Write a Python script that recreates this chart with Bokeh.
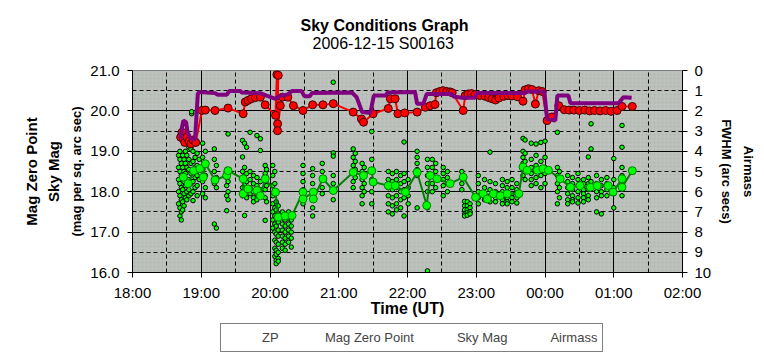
from bokeh.plotting import figure
from bokeh.layouts import column
from bokeh.models import (Range1d, LinearAxis, FixedTicker, Title, Legend, LegendItem,
                          BoxAnnotation)
from bokeh.embed import file_html
from bokeh.resources import INLINE

# ---------------- data (hours of UT, values after midnight > 24) ----------------
x_ticks = [18, 19, 20, 21, 22, 23, 24, 25, 26]
x_tick_labels = ["18:00", "19:00", "20:00", "21:00", "22:00", "23:00", "00:00", "01:00", "02:00"]
mag_ticks = [16, 17, 18, 19, 20, 21]
am_ticks = [0, 1, 2, 3, 4, 5, 6, 7, 8, 9, 10]

# ZP individual measurements, grouped by exposure sequence (time, list of mags)
zp_col_hour = [18.67, 18.69, 18.71, 18.73, 18.75, 18.77, 18.79, 18.82, 18.85, 18.88, 18.91, 18.94, 18.97,
               18.86, 19.02, 19.06, 19.19, 19.22, 19.37, 19.39, 19.60, 19.63, 19.66, 19.71, 19.76, 19.81,
               19.86, 19.93, 19.95, 20.04, 20.07, 20.09, 20.12, 20.18, 20.22, 20.27, 20.31, 20.48, 20.62,
               20.76, 20.92, 21.21, 21.24, 21.34, 21.37, 21.48, 21.72, 21.78, 21.84, 21.90, 21.95, 22.01,
               22.14, 22.29, 22.36, 22.41, 22.52, 22.58, 22.79, 22.83, 22.87, 22.91, 23.03, 23.12, 23.20,
               23.28, 23.38, 23.45, 23.52, 23.59, 23.68, 23.71, 23.80, 23.87, 23.94, 24.00, 24.18, 24.21,
               24.33, 24.40, 24.48, 24.56, 24.63, 24.67, 24.75, 24.82, 24.90, 25.00, 25.12]
zp_col_mag = [
    [18.9, 18.6, 18.3, 18.0, 17.7],
    [19.0, 18.8, 18.5, 18.2, 17.9, 17.6, 17.4],
    [18.7, 18.4, 18.1, 17.8, 17.5, 17.3],
    [18.9, 18.6, 18.35, 18.05, 17.75, 17.55],
    [18.8, 18.5, 18.25, 17.95, 17.65],
    [19.0, 18.7, 18.45, 18.15, 17.85],
    [18.9, 18.6, 18.3, 18.0, 17.8],
    [19.1, 18.8, 18.55, 18.3, 18.05, 17.9],
    [19.05, 18.7, 18.45, 18.2, 17.95],
    [19.0, 18.75, 18.5, 18.25, 18.0, 17.78],
    [18.85, 18.6, 18.35, 18.1],
    [18.95, 18.65, 18.4, 18.15, 17.9],
    [18.8, 18.55, 18.3],
    [19.95, 19.93, 19.98],
    [19.2, 18.85, 18.55, 18.25, 17.95],
    [19.0, 18.7, 18.4, 18.1, 17.85],
    [19.06, 18.8, 18.5, 18.2, 17.2],
    [18.65, 18.35, 18.1, 17.1],
    [18.55, 18.35, 18.15, 17.9, 17.53],
    [19.43, 18.45, 18.25, 18.0, 17.8],
    [19.27, 18.86, 18.5, 18.3, 18.1, 17.9],
    [19.2, 18.6, 18.4, 18.2, 18.0, 17.41],
    [19.1, 18.45, 18.25, 18.05, 17.85],
    [19.47, 18.5, 18.3, 18.1, 17.95],
    [18.4, 18.2, 18.0, 17.85, 17.75],
    [19.39, 18.35, 18.15, 17.95, 17.8],
    [19.31, 19.02, 18.25, 18.05, 17.9],
    [18.65, 18.45, 18.25, 18.05, 17.85, 17.29],
    [18.55, 18.35, 18.15, 17.75],
    [18.65, 18.4, 18.15, 17.9, 17.7, 17.5, 17.3, 17.1],
    [18.5, 18.2, 17.95, 17.6, 17.4, 17.2, 17.0, 16.8, 16.6, 16.4],
    [17.75, 17.55, 17.35, 17.15, 16.95, 16.75, 16.55, 16.45, 16.3, 16.22],
    [17.65, 17.45, 17.25, 17.05, 16.9, 16.7, 16.5, 16.35, 16.28],
    [17.5, 17.35, 17.2, 17.05, 16.9, 16.75, 16.6],
    [17.45, 17.3, 17.15, 17.0, 16.85, 16.7, 16.55],
    [17.5, 17.35, 17.2, 17.05, 16.9, 16.75],
    [17.45, 17.3, 17.15, 17.0, 16.85, 16.63],
    [18.65, 18.45, 18.25, 18.05, 17.85, 17.7],
    [18.57, 18.4, 18.2, 18.0, 17.8, 17.6, 17.4],
    [18.7, 18.5, 18.3, 18.1, 17.95],
    [20.71, 18.96, 18.88, 18.4, 18.2, 18.0, 17.8],
    [19.06, 18.85, 18.65, 18.45, 18.25, 18.1],
    [18.95, 18.75, 18.55, 18.35],
    [18.7, 18.5, 18.3, 18.1, 17.9, 17.7],
    [18.6, 18.4, 18.2, 18.0],
    [19.49, 18.8, 18.55, 18.3, 18.0, 17.7],
    [18.5, 18.3, 18.1, 17.9, 17.7, 17.5],
    [18.45, 18.25, 18.05, 17.85, 17.65, 17.45],
    [18.5, 18.3, 18.1, 17.9, 17.7, 17.55],
    [18.4, 18.2, 18.0, 17.8, 17.6],
    [19.23, 18.45, 18.25, 18.05, 17.85, 17.4],
    [18.3, 18.1, 17.9, 17.7],
    [19.0, 18.85, 18.7, 18.55, 18.4, 17.6],
    [18.8, 18.6, 18.4, 18.2, 18.0, 17.6, 16.04],
    [18.8, 18.6, 18.4, 18.2, 18.0],
    [18.7, 18.5, 18.3, 18.1],
    [18.6, 18.45, 18.3, 18.15, 17.9],
    [18.5, 18.35, 18.2, 18.0],
    [18.5, 18.35, 18.2, 18.05],
    [17.76, 17.65, 17.55, 17.45, 17.4],
    [17.75, 17.65, 17.55, 17.48, 17.42],
    [17.7, 17.6, 17.5, 17.45],
    [18.4, 18.2, 18.0, 17.85, 17.7],
    [18.3, 18.1, 17.95, 17.8],
    [18.98, 18.25, 18.05, 17.9, 17.75],
    [18.2, 18.0, 17.85, 17.75],
    [18.3, 18.15, 18.0, 17.9, 17.8, 17.7],
    [18.25, 18.1, 17.95, 17.85, 17.75, 17.7],
    [18.3, 18.1, 17.95, 17.85, 17.75],
    [18.2, 18.05, 17.95, 17.85, 17.72],
    [19.32, 19.0, 18.85, 18.7, 18.55, 18.4],
    [19.28, 18.95, 18.75, 18.6, 18.3],
    [19.2, 18.8, 18.6, 18.45, 18.3, 18.15],
    [19.18, 18.9, 18.65, 18.5, 18.35, 18.2],
    [19.22, 18.75, 18.55, 18.4, 18.1],
    [19.25, 18.85, 18.6, 18.45, 18.2],
    [19.47, 18.6, 18.4, 18.2, 18.0, 17.7],
    [18.5, 18.3, 18.1, 17.85],
    [18.4, 18.25, 18.1, 17.95, 17.8, 17.7],
    [18.35, 18.2, 18.05, 17.9, 17.8, 17.75],
    [18.45, 18.3, 18.15, 18.0, 17.85, 17.72],
    [18.3, 18.2, 18.05, 17.95, 17.85, 17.75],
    [18.86, 18.35, 18.2, 18.05, 17.9, 17.8],
    [19.68, 19.06, 18.25],
    [18.4, 18.2, 18.0, 17.85, 17.5],
    [18.3, 18.15, 18.0, 17.9, 17.45],
    [18.35, 18.2, 18.05, 17.9],
    [18.82, 18.3, 18.1, 17.95, 17.6],
    [19.64, 19.1, 18.6, 18.4, 18.2, 17.9],
]

# Mag Zero Point (averaged)
mzp_hour = [18.74, 18.81, 18.89, 18.98, 19.03, 19.06, 19.20, 19.37, 19.39, 19.61, 19.61, 19.68, 19.81, 19.86,
            19.93, 20.08, 20.12, 20.22, 20.32, 20.48, 20.48, 20.63, 20.63, 20.77, 20.92, 21.21, 21.36, 21.48,
            21.50, 21.72, 21.82, 21.97, 22.14, 22.28, 22.33, 22.43, 22.62, 22.81, 22.99, 23.10, 23.16, 23.25,
            23.35, 23.45, 23.62, 23.68, 23.74, 23.89, 23.97, 24.05, 24.22, 24.37, 24.51, 24.66, 24.76, 24.92,
            24.99, 25.12, 25.12, 25.27]
mzp_mag = [18.36, 18.20, 18.52, 18.57, 18.36, 18.69, 18.29, 18.40, 18.52, 18.32, 17.95, 18.07, 18.03, 17.90,
           18.32, 17.99, 17.37, 17.40, 17.41, 17.99, 17.82, 17.99, 17.82, 18.32, 18.03, 18.48, 18.40, 18.52,
           18.24, 18.15, 18.15, 17.99, 18.48, 17.66, 18.40, 18.32, 18.20, 18.36, 17.86, 17.95, 17.82, 17.95,
           17.90, 17.95, 17.95, 18.61, 18.53, 18.53, 18.57, 18.53, 18.32, 18.11, 18.15, 18.11, 18.15, 18.15,
           17.99, 18.32, 18.11, 18.52]

# Sky brightness
sky_hour = [18.70, 18.72, 18.74, 18.76, 18.79, 18.82, 18.85, 18.88, 18.92, 19.01, 19.06, 19.20, 19.39, 19.61,
            19.64, 19.68, 19.73, 19.79, 19.86, 19.93, 20.08, 20.10, 20.12, 20.11, 20.11, 20.15, 20.18, 20.26,
            20.34, 20.48, 20.62, 20.77, 20.92, 21.21, 21.33, 21.36, 21.50, 21.72, 21.75, 21.82, 21.86, 21.96,
            22.14, 22.26, 22.33, 22.40, 22.42, 22.47, 22.52, 22.57, 22.62, 22.65, 22.81, 22.84, 22.88, 22.93,
            22.98, 23.05, 23.13, 23.18, 23.23, 23.28, 23.33, 23.40, 23.46, 23.52, 23.60, 23.68, 23.71, 23.76,
            23.81, 23.86, 23.91, 23.96, 24.03, 24.10, 24.20, 24.28, 24.35, 24.42, 24.50, 24.58, 24.65, 24.72,
            24.80, 24.88, 24.96, 25.05, 25.12, 25.27]
sky_mag = [19.35, 19.47, 19.30, 19.22, 19.35, 19.25, 19.18, 19.28, 19.22, 20.01, 20.02, 20.01, 20.07, 19.93,
           20.22, 20.26, 20.30, 20.33, 20.34, 20.15, 19.89, 20.90, 20.88, 19.68, 19.51, 20.13, 20.34, 20.34,
           20.13, 20.01, 20.15, 20.15, 20.18, 19.97, 19.80, 19.72, 19.93, 20.06, 20.30, 20.30, 19.93, 19.95,
           19.97, 20.09, 20.13, 20.16, 20.45, 20.48, 20.50, 20.48, 20.47, 20.45, 20.01, 20.38, 20.42, 20.43,
           20.40, 20.38, 20.36, 20.33, 20.30, 20.27, 20.32, 20.36, 20.38, 20.37, 20.35, 20.24, 20.52, 20.55,
           20.53, 20.17, 20.50, 20.48, 19.76, 19.85, 20.13, 20.03, 20.02, 20.02, 20.01, 20.02, 20.00, 20.01,
           20.00, 20.01, 19.99, 20.01, 20.11, 20.11]

# Airmass (secondary axis)
am_hour = [18.70, 18.72, 18.74, 18.78, 18.80, 18.84, 18.89, 18.91, 18.95, 18.97, 19.20, 19.24, 19.37, 19.41,
           19.57, 19.59, 19.86, 19.95, 20.08, 20.15, 20.25, 20.32, 20.46, 20.50, 20.58, 20.61, 21.19, 21.26,
           21.34, 21.46, 21.51, 21.68, 21.71, 22.11, 22.14, 22.23, 22.28, 22.65, 22.67, 22.79, 22.98, 23.01,
           23.71, 23.74, 23.99, 24.03, 24.15, 24.18, 24.34, 24.37, 25.07, 25.14, 25.26]
am_val = [3.38, 2.81, 2.48, 2.56, 3.05, 3.33, 3.42, 3.38, 1.16, 1.07, 1.12, 1.20, 1.20, 1.01, 1.02, 1.09,
          1.12, 1.24, 1.40, 1.24, 1.20, 1.02, 1.02, 1.27, 1.27, 1.12, 1.09, 1.32, 2.06, 2.10, 1.24, 1.24,
          1.09, 1.07, 1.65, 1.65, 1.16, 1.16, 1.29, 1.35, 1.35, 1.11, 1.11, 1.04, 1.04, 2.39, 2.48, 1.24,
          1.24, 1.62, 1.62, 1.32, 1.35]

# flatten ZP table
zp_hour, zp_mag = [], []
for h, mags in zip(zp_col_hour, zp_col_mag):
    for m in mags:
        zp_hour.append(h)
        zp_mag.append(m)

FONT = "Liberation Sans"

# ---------------------------------- styles ----------------------------------
ZP_STYLE = dict(marker="circle", size=4.5, fill_color="#00ff00", line_color="black", line_width=1)
MZP_LINE = dict(line_color="#008000", line_width=2)
MZP_PTS = dict(marker="circle", size=8, fill_color="#00ff00", line_color="#008000", line_width=1)
SKY_LINE = dict(line_color="#ff0000", line_width=2)
SKY_PTS = dict(marker="circle", size=8, fill_color="#ff0000", line_color="#400000", line_width=1)
AM_LINE = dict(line_color="#800080", line_width=4)

p = figure(frame_width=550, frame_height=202, output_backend="svg", toolbar_location=None,
           title=None,
           x_range=Range1d(18, 26), y_range=Range1d(16, 21),
           min_border_left=132, min_border_right=82, min_border_top=70, min_border_bottom=50,
           background_fill_color="#c0c0c0", border_fill_color="white",
           outline_line_color="#808080", outline_line_width=1)

# faint dotted texture of plot area
p.add_layout(BoxAnnotation(level="image", fill_alpha=0, line_alpha=0, hatch_pattern="dot",
                           hatch_color="#40b040", hatch_alpha=0.22, hatch_scale=4, hatch_weight=1))

# x axis
p.xaxis.ticker = FixedTicker(ticks=x_ticks, minor_ticks=[t + 0.5 for t in x_ticks[:-1]])
p.xaxis.major_label_overrides = {float(t): lab for t, lab in zip(x_ticks, x_tick_labels)}
p.xaxis.axis_label = "Time (UT)"
# left axis
p.yaxis.ticker = FixedTicker(ticks=mag_ticks, minor_ticks=[t + 0.5 for t in mag_ticks[:-1]])
p.yaxis.major_label_overrides = {float(t): "%.1f" % t for t in mag_ticks}

for ax in (p.xaxis[0], p.yaxis[0]):
    ax.axis_line_color = "black"
    ax.major_tick_line_color = "black"
    ax.major_tick_out = 5
    ax.major_tick_in = 0
    ax.minor_tick_line_color = None
    ax.major_label_text_font = FONT
    ax.major_label_text_font_size = "15px"
    ax.major_label_text_color = "black"
p.xaxis.major_label_standoff = 6
p.yaxis.major_label_standoff = 8
p.xaxis.axis_label_text_font = FONT
p.xaxis.axis_label_text_font_size = "16px"
p.xaxis.axis_label_text_font_style = "bold"
p.xaxis.axis_label_text_color = "black"
p.xaxis.axis_label_standoff = -4

# grids
for g in (p.xgrid[0], p.ygrid[0]):
    g.grid_line_color = "black"
    g.grid_line_width = 1
    g.minor_grid_line_color = "black"
    g.minor_grid_line_dash = "4 3"
    g.minor_grid_line_width = 1
p.xgrid.ticker = p.xaxis[0].ticker
p.ygrid.ticker = p.yaxis[0].ticker

# right axis (FWHM / airmass, inverted)
p.extra_y_ranges = {"am": Range1d(10, 0)}
rax = LinearAxis(y_range_name="am", ticker=FixedTicker(ticks=am_ticks))
rax.major_tick_out = 5
rax.major_tick_in = 0
rax.minor_tick_line_color = None
rax.major_label_text_font = FONT
rax.major_label_text_font_size = "15px"
rax.major_label_text_color = "black"
rax.major_label_standoff = 7
p.add_layout(rax, "right")

# series
zp_r = p.scatter(zp_hour, zp_mag, **ZP_STYLE)
mzp_l = p.line(mzp_hour, mzp_mag, **MZP_LINE)
mzp_s = p.scatter(mzp_hour, mzp_mag, **MZP_PTS)
sky_l = p.line(sky_hour, sky_mag, **SKY_LINE)
sky_s = p.scatter(sky_hour, sky_mag, **SKY_PTS)
am_l = p.line(am_hour, am_val, y_range_name="am", **AM_LINE)

# titles (stacked outward from the frame)
def side_title(text, place, size, style="bold", standoff=2, align="center", offset=0):
    p.add_layout(Title(text=text, align=align, text_font=FONT, text_font_size=size,
                       text_font_style=style, text_color="black", standoff=standoff,
                       offset=offset), place)

side_title(" ", "above", "1px", "normal", standoff=16)          # spacer
side_title("2006-12-15 S00163", "above", "16px", "normal", standoff=0, align="left", offset=180)
side_title("Sky Conditions Graph", "above", "16px", "bold", standoff=-2, align="left", offset=168)
side_title("(mag per sq. arc sec)", "left", "13px", standoff=7)
side_title("Sky Mag", "left", "15px", standoff=3)
side_title("Mag Zero Point", "left", "15px", standoff=3)
side_title("FWHM (arc secs)", "right", "13px", standoff=8)
side_title("Airmass", "right", "13px", standoff=2)

# ------------------------- legend strip under the chart -------------------------
# same horizontal structure as the main chart, so its frame lines up with the plot area
pl = figure(frame_width=550, frame_height=35, output_backend="svg", toolbar_location=None,
            title=None, x_axis_type=None, y_axis_type=None,
            x_range=Range1d(0, 1), y_range=Range1d(0, 1),
            min_border_left=132, min_border_right=82, min_border_top=0, min_border_bottom=0,
            background_fill_color="white", border_fill_color="white", outline_line_color=None)
lz = pl.scatter([], [], **ZP_STYLE)
lml = pl.line([], [], **MZP_LINE)
lms = pl.scatter([], [], **MZP_PTS)
lsl = pl.line([], [], **SKY_LINE)
lss = pl.scatter([], [], **SKY_PTS)
lal = pl.line([], [], **AM_LINE)
legend = Legend(items=[LegendItem(label="ZP", renderers=[lz]),
                       LegendItem(label="Mag Zero Point", renderers=[lml, lms]),
                       LegendItem(label="Sky Mag", renderers=[lsl, lss]),
                       LegendItem(label="Airmass", renderers=[lal])],
                orientation="horizontal", location=(88, 5),
                border_line_color="black", border_line_width=1,
                background_fill_color="white", background_fill_alpha=1,
                label_text_font=FONT, label_text_font_size="13px",
                glyph_width=34, glyph_height=17, label_height=17, label_standoff=2, spacing=7,
                padding=5, margin=0)
pl.add_layout(legend)

layout = column(p, pl, spacing=0)
open("out.html", "w").write(file_html(layout, INLINE))
